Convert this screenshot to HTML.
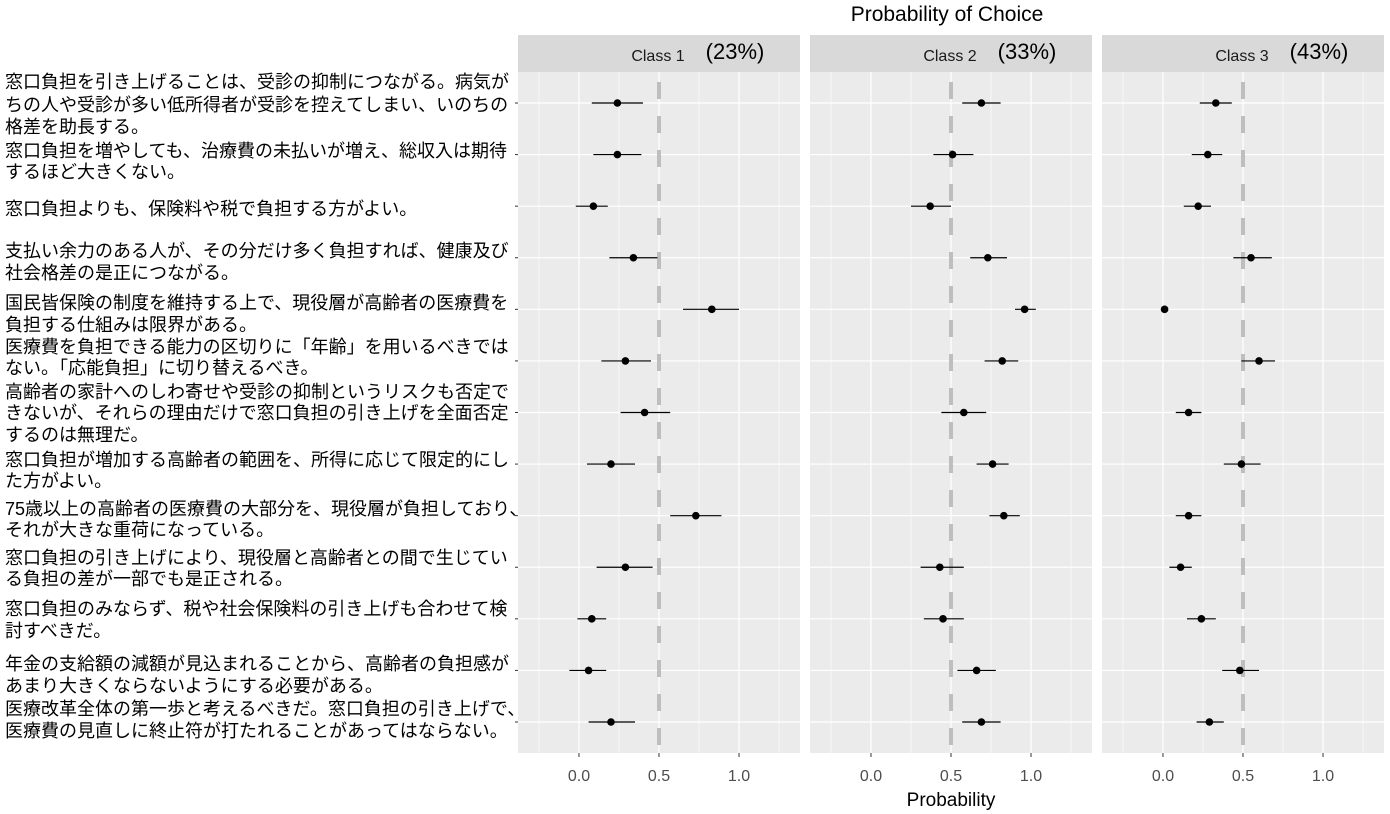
<!DOCTYPE html>
<html><head><meta charset="utf-8">
<style>
body{margin:0;background:#fff;}
svg{display:block;font-family:"Liberation Sans","Noto Sans CJK JP",sans-serif;}
</style></head>
<body>
<svg id="chart" width="1390" height="814" viewBox="0 0 1390 814"></svg>
<script>
const classNames = ["Class 1","Class 2","Class 3"];
const classShares = ["(23%)","(33%)","(43%)"];
const xTicks = [0,0.5,1.0];
const xTickLabels = ["0.0","0.5","1.0"];
const est1 = [0.24,0.24,0.09,0.34,0.83,0.29,0.41,0.20,0.73,0.29,0.08,0.06,0.20];
const lo1  = [0.08,0.09,-0.02,0.19,0.65,0.14,0.26,0.05,0.57,0.11,-0.01,-0.06,0.06];
const hi1  = [0.40,0.39,0.18,0.49,1.00,0.45,0.57,0.35,0.89,0.46,0.17,0.17,0.35];
const est2 = [0.69,0.51,0.37,0.73,0.96,0.82,0.58,0.76,0.83,0.43,0.45,0.66,0.69];
const lo2  = [0.57,0.39,0.25,0.62,0.90,0.71,0.44,0.66,0.74,0.31,0.33,0.54,0.57];
const hi2  = [0.81,0.64,0.50,0.85,1.03,0.92,0.72,0.86,0.93,0.58,0.58,0.78,0.81];
const est3 = [0.33,0.28,0.22,0.55,0.01,0.60,0.16,0.49,0.16,0.11,0.24,0.48,0.29];
const lo3  = [0.23,0.18,0.13,0.44,0.00,0.49,0.08,0.38,0.08,0.04,0.15,0.37,0.21];
const hi3  = [0.43,0.37,0.30,0.68,0.02,0.70,0.24,0.61,0.24,0.18,0.33,0.60,0.38];
const itemLabels = [
 ["窓口負担を引き上げることは、受診の抑制につながる。病気が","ちの人や受診が多い低所得者が受診を控えてしまい、いのちの","格差を助長する。"],
 ["窓口負担を増やしても、治療費の未払いが増え、総収入は期待","するほど大きくない。"],
 ["窓口負担よりも、保険料や税で負担する方がよい。"],
 ["支払い余力のある人が、その分だけ多く負担すれば、健康及び","社会格差の是正につながる。"],
 ["国民皆保険の制度を維持する上で、現役層が高齢者の医療費を","負担する仕組みは限界がある。"],
 ["医療費を負担できる能力の区切りに「年齢」を用いるべきでは","ない。「応能負担」に切り替えるべき。"],
 ["高齢者の家計へのしわ寄せや受診の抑制というリスクも否定で","きないが、それらの理由だけで窓口負担の引き上げを全面否定","するのは無理だ。"],
 ["窓口負担が増加する高齢者の範囲を、所得に応じて限定的にし","た方がよい。"],
 ["75歳以上の高齢者の医療費の大部分を、現役層が負担しており、","それが大きな重荷になっている。"],
 ["窓口負担の引き上げにより、現役層と高齢者との間で生じてい","る負担の差が一部でも是正される。"],
 ["窓口負担のみならず、税や社会保険料の引き上げも合わせて検","討すべきだ。"],
 ["年金の支給額の減額が見込まれることから、高齢者の負担感が","あまり大きくならないようにする必要がある。"],
 ["医療改革全体の第一歩と考えるべきだ。窓口負担の引き上げで、","医療費の見直しに終止符が打たれることがあってはならない。"]
];
const labelY = [[82,105,127],[151,172],[209],[251,273],[303,325],[347,368],[392,413,435],[460,481],[509,530],[558,579],[609,631],[664,686],[709,731]];

const NS="http://www.w3.org/2000/svg";
const svg=document.getElementById('chart');
function mk(tag,attrs,parent){const e=document.createElementNS(NS,tag);for(const k in attrs)e.setAttribute(k,attrs[k]);(parent||svg).appendChild(e);return e;}
const panelX=[518,810,1102], panelW=282, plotTop=72, plotBottom=753, stripTop=35;
const xMin=-0.381, xMax=1.381;
function xs(p,v){return panelX[p]+(v-xMin)/(xMax-xMin)*panelW;}
const n=est1.length;
function ys(i){return plotTop+31+i*(plotBottom-plotTop-62)/(n-1);}
const ests=[est1,est2,est3], los=[lo1,lo2,lo3], his=[hi1,hi2,hi3];

let t=mk('text',{x:947,y:21,'text-anchor':'middle','font-size':21,fill:'#000'});


t.textContent='Probability of Choice';

for(let p=0;p<3;p++){
  const g=mk('g',{});
  
  
  const s=mk('rect',{x:panelX[p],y:stripTop,width:panelW,height:plotTop-stripTop,fill:'#d9d9d9'},g);
  
  
  const st=mk('text',{x:panelX[p]+140,y:61,'text-anchor':'middle','font-size':16,fill:'#1a1a1a'},g);
  
  
  st.textContent=classNames[p];
  const sh=mk('text',{x:panelX[p]+217,y:59,'text-anchor':'middle','font-size':22,fill:'#000'},g);
  
  
  sh.textContent=classShares[p];
  mk('rect',{x:panelX[p],y:plotTop,width:panelW,height:plotBottom-plotTop,fill:'#ebebeb'},g);
  for(const v of [-0.25,0.25,0.75,1.25]) mk('line',{x1:xs(p,v),x2:xs(p,v),y1:plotTop,y2:plotBottom,stroke:'#fff','stroke-width':0.6},g);
  xTicks.forEach((v,k)=>{
    mk('line',{x1:xs(p,v),x2:xs(p,v),y1:plotTop,y2:plotBottom,stroke:'#fff','stroke-width':1.2},g);
    mk('line',{x1:xs(p,v),x2:xs(p,v),y1:plotBottom,y2:plotBottom+4,stroke:'#333','stroke-width':1},g);
    const tl=mk('text',{x:xs(p,v),y:781,'text-anchor':'middle','font-size':16,fill:'#4d4d4d'},g);
    
    
    tl.textContent=xTickLabels[k];
  });
  for(let i=0;i<n;i++) mk('line',{x1:panelX[p],x2:panelX[p]+panelW,y1:ys(i),y2:ys(i),stroke:'#fff','stroke-width':1.2},g);
  const ref=mk('line',{x1:xs(p,0.5),x2:xs(p,0.5),y1:plotTop,y2:plotBottom,stroke:'#bebebe','stroke-width':4,'stroke-dasharray':'17 17','stroke-dashoffset':'-10'},g);
  
  
  for(let i=0;i<n;i++){
    const eb=mk('line',{x1:xs(p,los[p][i]),x2:xs(p,his[p][i]),y1:ys(i),y2:ys(i),stroke:'#000','stroke-width':1.2},g);
    
    
    const pt=mk('circle',{cx:xs(p,ests[p][i]),cy:ys(i),r:3.8,fill:'#000'},g);
    
    
  }
}
for(let i=0;i<n;i++){
  mk('line',{x1:515,x2:518,y1:ys(i),y2:ys(i),stroke:'#333','stroke-width':1});
  const lg=mk('g',{});
  
  
  itemLabels[i].forEach((line,k)=>{
    mk('text',{x:5,y:labelY[i][k]+6,'font-size':18,fill:'#000'},lg).textContent=line;
  });
}
t=mk('text',{x:951,y:806,'text-anchor':'middle','font-size':19,fill:'#000'});


t.textContent='Probability';
</script>
</body></html>
